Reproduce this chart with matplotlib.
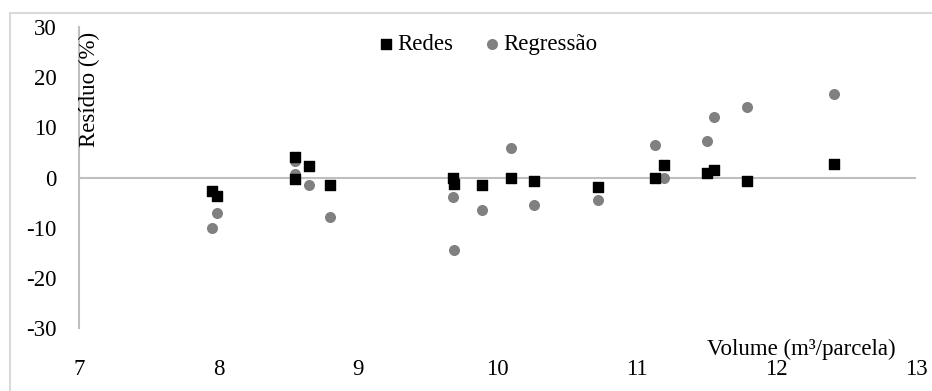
import matplotlib.pyplot as plt
from matplotlib.patches import Rectangle

# dados
volume = [7.95, 7.99, 8.55, 8.55, 8.65, 8.80, 9.68, 9.69, 9.89, 10.10,
          10.26, 10.72, 11.13, 11.19, 11.50, 11.55, 11.79, 12.41]
res_redes = [-2.6, -3.6, 4.0, -0.3, 2.2, -1.4, 0.0, -1.2, -1.4, 0.0,
             -0.7, -1.8, 0.0, 2.4, 0.8, 1.4, -0.6, 2.6]
res_regressao = [-10.0, -7.0, 3.2, 0.7, -1.4, -7.8, -3.8, -14.4, -6.4, 5.8,
                 -5.4, -4.5, 6.4, 0.0, 7.2, 12.0, 14.1, 16.6]

xticks = [7, 8, 9, 10, 11, 12, 13]
yticks = [-30, -20, -10, 0, 10, 20, 30]

plt.rcParams['font.family'] = ['Liberation Serif', 'DejaVu Serif']
plt.rcParams['font.size'] = 16.5
plt.rcParams['axes.unicode_minus'] = False

fig = plt.figure(figsize=(9.32, 3.91), dpi=100)
ax = fig.add_axes([79 / 932, 1 - 328 / 391, (916 - 79) / 932, (328 - 27) / 391])

# linha do zero e eixo vertical em cinza
ax.axhline(0, color='#bfbfbf', lw=1.5, zorder=1)
ax.scatter(volume, res_redes, marker='s', s=58, color='black', label='Redes', zorder=3)
ax.scatter(volume, res_regressao, marker='o', s=48, color='#808080', label='Regressão', zorder=2)

ax.set_xlim(7, 13)
ax.set_ylim(-30, 30)
ax.set_xticks(xticks)
ax.set_yticks(yticks)
ax.tick_params(length=0)
ax.tick_params(axis='y', pad=16)
ax.tick_params(axis='x', pad=22)

for s in ['top', 'right', 'bottom']:
    ax.spines[s].set_visible(False)
ax.spines['left'].set_color('#bfbfbf')
ax.spines['left'].set_linewidth(1.5)

ax.text(0.013, 0.985, 'Resíduo (%)', rotation=90, transform=ax.transAxes,
        ha='center', va='top')
fig.text(801 / 932, 1 - 349 / 391, 'Volume (m³/parcela)', ha='center', va='center')

fig.legend(ncol=2, frameon=False, loc='center', bbox_to_anchor=(486 / 932, 1 - 44 / 391),
           handletextpad=0.0, columnspacing=1.2, handlelength=1.0, markerscale=1.0)

# borda da área do gráfico
fig.patches.append(Rectangle((10 / 932, -0.2), 1.0, 1.2 - 13 / 391, transform=fig.transFigure,
                             fill=False, edgecolor='#d9d9d9', lw=1.5))

fig.savefig('out.png', dpi=100)
